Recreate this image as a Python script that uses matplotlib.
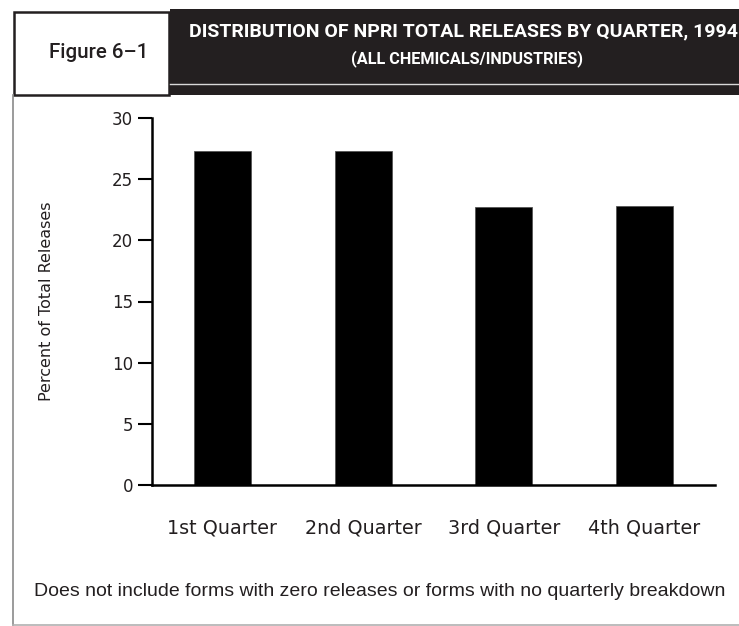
import matplotlib
matplotlib.use('Agg')
from matplotlib import pyplot as plt
from matplotlib.patches import Rectangle
from matplotlib.lines import Line2D

quarters = ['1st Quarter', '2nd Quarter', '3rd Quarter', '4th Quarter']
percent_releases = [27.3, 27.3, 22.7, 22.8]
y_ticks = [0, 5, 10, 15, 20, 25, 30]

title = 'DISTRIBUTION OF NPRI TOTAL RELEASES BY QUARTER, 1994'
subtitle = '(ALL CHEMICALS/INDUSTRIES)'
figure_label = 'Figure 6\u20131'
footnote = 'Does not include forms with zero releases or forms with no quarterly breakdown'

W, H = 739, 626
head_font = ['Roboto', 'DejaVu Sans']
axis_font = ['DejaVu Sans']


def fx(x):
    return x / W


def fy(y):
    return 1 - y / H


fig = plt.figure(figsize=(W / 100, H / 100), dpi=100)

# header: label box + dark title band
fig.patches.append(Rectangle((fx(170), fy(95)), fx(739 - 170), (95 - 9) / H,
                             transform=fig.transFigure, facecolor='#231f20',
                             edgecolor='none'))
fig.lines.append(Line2D([fx(170), fx(739)], [fy(84), fy(84)], transform=fig.transFigure,
                        color='#d8d8d8', lw=1.0))
fig.patches.append(Rectangle((fx(14), fy(95)), fx(169 - 14), (95 - 12) / H,
                             transform=fig.transFigure, facecolor='white',
                             edgecolor='#231f20', lw=1.8))
fig.text(fx(99), fy(53), figure_label, ha='center', va='center', fontsize=14.8,
         family=head_font, weight='medium', color='#231f20')
fig.text(fx(463), fy(31), title, ha='center', va='center', fontsize=14,
         family=head_font, weight='bold', color='white')
fig.text(fx(467), fy(59), subtitle, ha='center', va='center', fontsize=11.7,
         family=head_font, weight='bold', color='white')

# frame lines on left and bottom
fig.lines.append(Line2D([fx(12.7), fx(12.7)], [fy(95), fy(625)], transform=fig.transFigure,
                        color='#8a8a8a', lw=1.2))
fig.lines.append(Line2D([fx(12.7), fx(739)], [fy(625), fy(625)], transform=fig.transFigure,
                        color='#b0b0b0', lw=1.2))

ax = fig.add_axes([fx(152), fy(485), fx(715 - 152), (485 - 118) / H])
x = range(len(quarters))
ax.bar(x, percent_releases, width=0.405, color='black', edgecolor='#555555', linewidth=0.6)
ax.set_xlim(-0.5, 3.5)
ax.set_ylim(0, 30)
ax.set_yticks(y_ticks)
ax.set_xticks(list(x))
ax.set_xticklabels(quarters, family=axis_font, fontsize=13.8, color='#231f20')
ax.set_yticklabels([str(t) for t in y_ticks], family=axis_font, fontsize=12, color='#231f20')
ax.tick_params(axis='y', direction='out', length=10, width=1.5, pad=3.5)
ax.tick_params(axis='x', length=0, pad=24)
for side in ('top', 'right'):
    ax.spines[side].set_visible(False)
ax.spines['left'].set_linewidth(1.8)
ax.spines['bottom'].set_linewidth(1.8)
ax.set_ylabel('Percent of Total Releases', family=axis_font, fontsize=11.5,
              color='#231f20', labelpad=42)

fig.text(fx(380), fy(591), footnote, ha='center', va='center', fontsize=14,
         family=['Liberation Sans', 'DejaVu Sans'], color='#231f20')

fig.savefig('out.png', dpi=100)
